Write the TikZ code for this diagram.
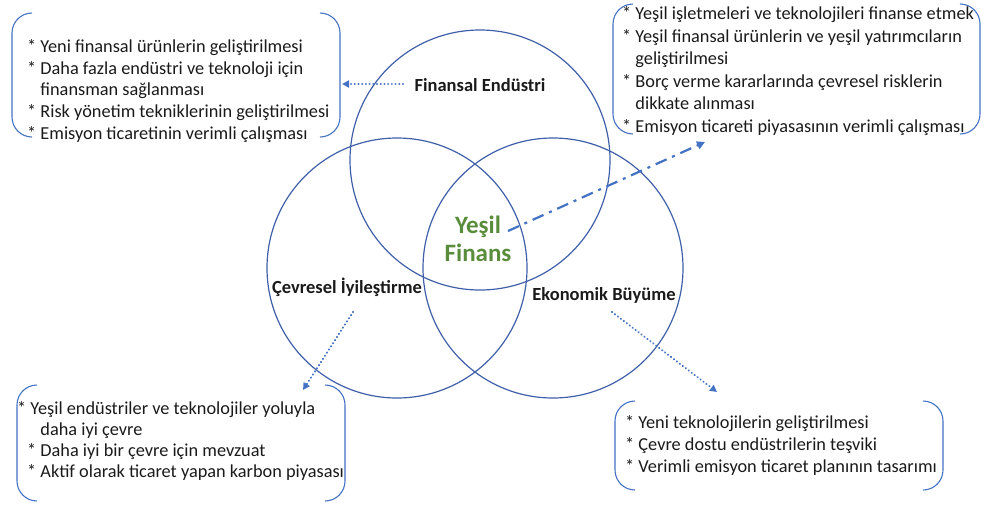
\documentclass[tikz,border=0pt]{standalone}
\usepackage{fontspec}
\setmainfont{Carlito}
\usetikzlibrary{arrows.meta}
\definecolor{ring}{HTML}{3F60A8}
\definecolor{accent}{HTML}{4472C4}
\definecolor{leaf}{HTML}{5A8D3B}
\definecolor{ink}{HTML}{1A1A1A}

% bracket pair: left x, top y, right x, bottom y
\newcommand\bracketpair[4]{%
  \draw[bracketline] (#1+20,#2) -- (#1,#2) -- (#1,#4) -- (#1+20,#4);
  \draw[bracketline] (#3-20,#2) -- (#3,#2) -- (#3,#4) -- (#3-20,#4);}

\begin{document}
\begin{tikzpicture}[x=1pt,y=-1pt,
  ringline/.style={draw=ring,line width=1.2pt},
  bracketline/.style={draw=accent,line width=1.1pt,rounded corners=20pt},
  itemtext/.style={inner sep=0pt,align=left,text=ink,anchor=west,
    font=\fontsize{18.3}{21.8}\selectfont},
  label/.style={inner sep=0pt,text=ink,font=\fontsize{18.5}{20}\selectfont\bfseries},
  dotarrow/.style={draw=accent,line width=2.3pt,line cap=round,
    dash pattern=on 0.01pt off 3.7pt,
    -{Triangle[length=7pt,width=7pt,fill=accent,line cap=butt]}},
  dasharrow/.style={draw=accent,line width=2.2pt,
    dash pattern=on 12pt off 6pt on 3pt off 6pt,
    -{Triangle[length=8pt,width=8pt,fill=accent]}}]
\useasboundingbox (0,0) rectangle (984,504);

% the three overlapping circles
\draw[ringline] (480,160) circle[radius=130];
\draw[ringline] (397,268) circle[radius=130];
\draw[ringline] (553,268) circle[radius=130];

% circle labels
\node[label] (fin) at (480,85) {Finansal Endüstri};
\node[label] (cev) at (347,287) {Çevresel İyileştirme};
\node[label] (eko) at (604,295) {Ekonomik Büyüme};
\node[inner sep=0pt,text=leaf,align=center,
      font=\fontsize{25}{28}\selectfont\bfseries] (core) at (478,239) {Yeşil\\Finans};

% bracketed text blocks
\bracketpair{12}{13}{340}{137}
\node[itemtext] (finbox) at (27,91) {%
  * Yeni finansal ürünlerin geliştirilmesi\\
  * Daha fazla endüstri ve teknoloji için\\
  \phantom{* }finansman sağlanması\\
  * Risk yönetim tekniklerinin geliştirilmesi\\
  * Emisyon ticaretinin verimli çalışması};

\bracketpair{613}{4}{980}{134}
\node[itemtext,font=\fontsize{18.3}{22.6}\selectfont] (corebox) at (622,71) {%
  * Yeşil işletmeleri ve teknolojileri finanse etmek\\
  * Yeşil finansal ürünlerin ve yeşil yatırımcıların\\
  \phantom{* }geliştirilmesi\\
  * Borç verme kararlarında çevresel risklerin\\
  \phantom{* }dikkate alınması\\
  * Emisyon ticareti piyasasının verimli çalışması};

\bracketpair{17}{385}{345}{501}
\node[itemtext,font=\fontsize{18.3}{20.8}\selectfont] (cevbox) at (27,441) {%
  \hspace*{-10pt}* Yeşil endüstriler ve teknolojiler yoluyla\\
  \phantom{* }daha iyi çevre\\
  * Daha iyi bir çevre için mevzuat\\
  * Aktif olarak ticaret yapan karbon piyasası};

\bracketpair{615}{401}{943}{490}
\node[itemtext,font=\fontsize{18.3}{22}\selectfont] (ekobox) at (625,445) {%
  * Yeni teknolojilerin geliştirilmesi\\
  * Çevre dostu endüstrilerin teşviki\\
  * Verimli emisyon ticaret planının tasarımı};

% connector end points
\coordinate (finS) at (403,84);
\coordinate (finT) at (342,84);
\coordinate (coreS) at (508,231);
\coordinate (coreT) at (705,142);
\coordinate (cevS) at (353,312);
\coordinate (cevT) at (303,390);
\coordinate (ekoS) at (612,312);
\coordinate (ekoT) at (717,392);

\draw[dotarrow] (finS) -- (finT);
\draw[dasharrow] (coreS) -- (coreT);
\draw[dotarrow] (cevS) -- (cevT);
\draw[dotarrow] (ekoS) -- (ekoT);
\end{tikzpicture}
\end{document}
